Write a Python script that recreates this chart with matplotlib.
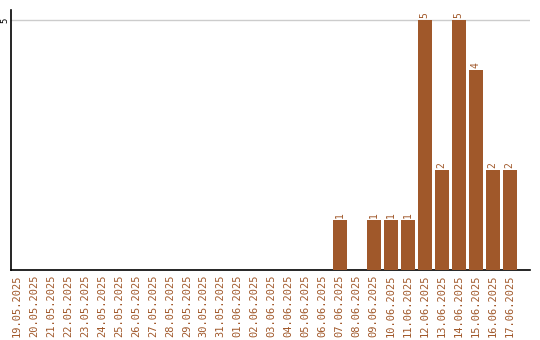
import matplotlib
matplotlib.use("Agg")
import matplotlib.pyplot as plt

dates = ["19.05.2025", "20.05.2025", "21.05.2025", "22.05.2025", "23.05.2025",
         "24.05.2025", "25.05.2025", "26.05.2025", "27.05.2025", "28.05.2025",
         "29.05.2025", "30.05.2025", "31.05.2025", "01.06.2025", "02.06.2025",
         "03.06.2025", "04.06.2025", "05.06.2025", "06.06.2025", "07.06.2025",
         "08.06.2025", "09.06.2025", "10.06.2025", "11.06.2025", "12.06.2025",
         "13.06.2025", "14.06.2025", "15.06.2025", "16.06.2025", "17.06.2025"]
counts = [0, 0, 0, 0, 0, 0, 0, 0, 0, 0,
          0, 0, 0, 0, 0, 0, 0, 0, 0, 1,
          0, 1, 1, 1, 5, 2, 5, 4, 2, 2]

bar_color = "#a0582a"
font = "DejaVu Sans Mono"

fig = plt.figure(figsize=(5.4, 3.4), dpi=100)
ax = fig.add_axes([11 / 540, 1 - 270 / 340, 519 / 540, 260 / 340])

x = list(range(len(dates)))
ax.bar(x, counts, width=0.82, color=bar_color, zorder=3)

for xi, v in zip(x, counts):
    if v > 0:
        ax.text(xi, v + 0.05, str(v), rotation=90, ha="center", va="bottom",
                fontsize=7, color=bar_color, family=font)

ax.set_xlim(-0.35, len(dates) + 0.2)
ax.set_ylim(0, 5.2)
ax.set_yticks([5])
ax.set_yticklabels(["5"], rotation=90, va="center", fontsize=6.5, family=font)
ax.yaxis.grid(True, color="#cccccc", linewidth=1, zorder=0)
ax.tick_params(axis="y", length=0, pad=1)

ax.set_xticks(x)
ax.set_xticklabels(dates, rotation=90, fontsize=7.5, family=font, color=bar_color)
ax.tick_params(axis="x", length=0, pad=3)

for s in ["top", "right"]:
    ax.spines[s].set_visible(False)
ax.spines["left"].set_linewidth(1.2)
ax.spines["bottom"].set_linewidth(1.2)

fig.savefig("out.png", dpi=100)
